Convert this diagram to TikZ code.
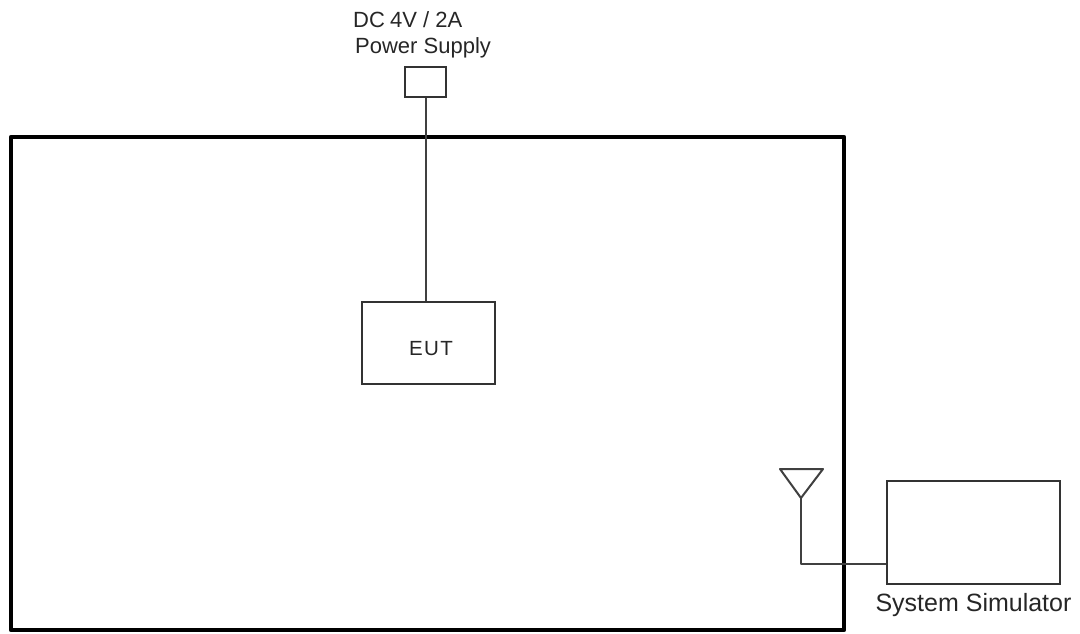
\documentclass[tikz,border=0pt]{standalone}
\usepackage{fontspec}
\setmainfont{Liberation Sans}
\begin{document}
\begin{tikzpicture}[x=1pt,y=-1pt,
  thin box/.style={draw=black!80,line width=2pt,inner sep=0pt},
  wire/.style={draw=black!75,line width=2pt},
  lbl/.style={font=\fontsize{22pt}{24pt}\selectfont,text=black!85,inner sep=0pt}]
\useasboundingbox (0,0) rectangle (1080,633);
% chamber
\draw[line width=4.5pt,line join=round] (11,137) rectangle (844,630);
% power supply
\node[thin box,minimum width=41pt,minimum height=30pt] (ps) at (425.5,82) {};
\node[lbl,anchor=base west] (psl1) at (353,27) {DC\hspace{-1pt} 4V / 2A};
\node[lbl,anchor=base west] (psl2) at (355,53) {Power Supply};
% EUT
\node[thin box,minimum width=133pt,minimum height=82pt] (eut) at (428.5,342.5) {};
\node[lbl,anchor=base,font=\fontsize{20.5pt}{24pt}\selectfont] (eutl) at (431,355) {E\kern1.5pt U\kern1.5pt T};
\draw[wire] (ps.south) -- (ps.south |- eut.north);
% antenna
\coordinate (ant) at (801,498);
\draw[wire,line join=round] (780,469) -- (823,469) -- (ant) -- cycle;
% simulator
\node[thin box,minimum width=173pt,minimum height=103pt] (sim) at (973.5,532) {};
\node[lbl,anchor=base,font=\fontsize{25pt}{27pt}\selectfont] (siml) at (973.5,611) {System Simulator};
\draw[wire,line join=round] (ant) -- (801,564) -- (sim.west |- 801,564);
\end{tikzpicture}
\end{document}
